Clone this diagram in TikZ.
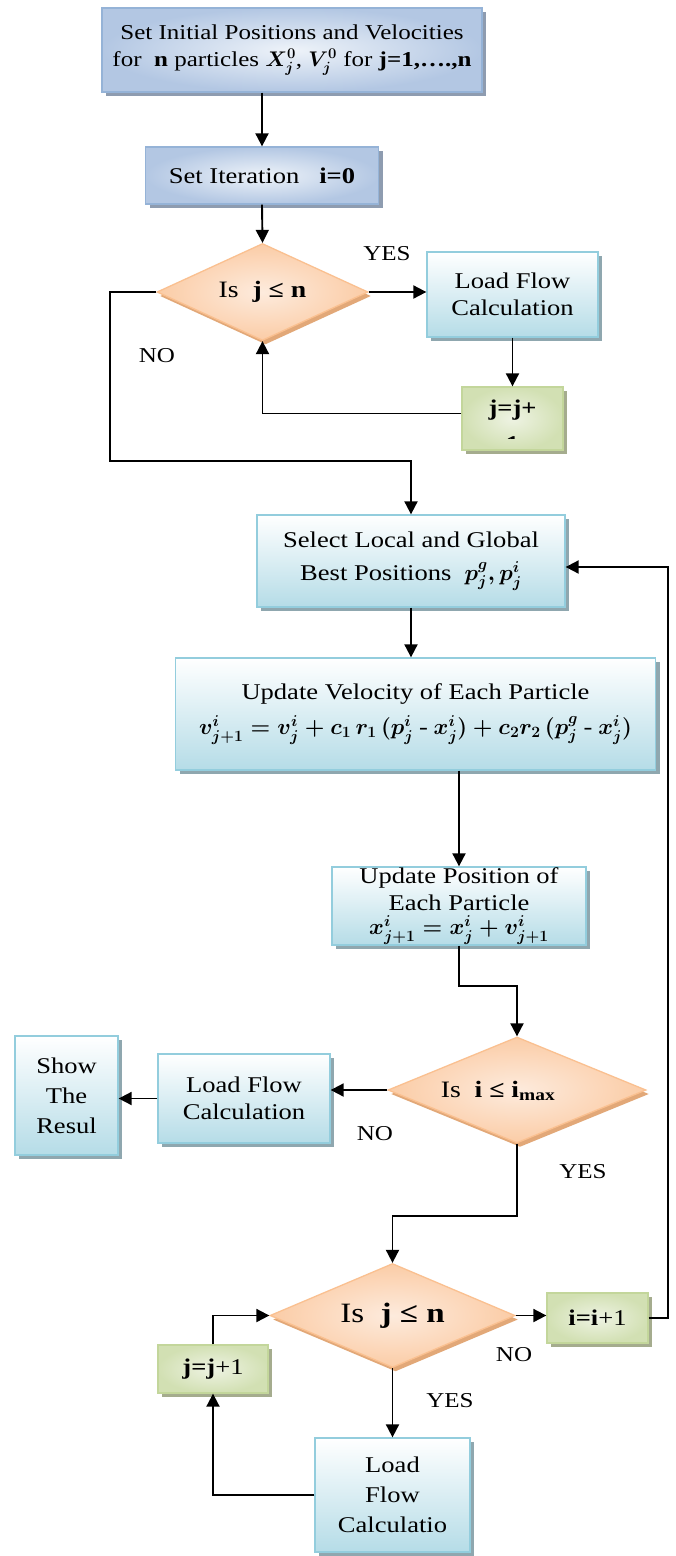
\RequirePackage{fix-cm}
\documentclass[tikz,border=0pt]{standalone}
\usepackage{amsmath}
\usepackage{fontspec}
\setmainfont[FakeStretch=1.18]{Liberation Serif}
\usetikzlibrary{shapes.geometric,shadows,arrows.meta}
\definecolor{blueborder}{HTML}{95B3D7}
\definecolor{blueinner}{HTML}{EEF3F9}
\definecolor{blueouter}{HTML}{B3C7E3}
\definecolor{blueshadow}{HTML}{8E9CB0}
\definecolor{cyanborder}{HTML}{93CDDD}
\definecolor{cyanbottom}{HTML}{B5DCE7}
\definecolor{cyanshadow}{HTML}{8FA7AF}
\definecolor{greenborder}{HTML}{C3D69B}
\definecolor{greeninner}{HTML}{EEF3E3}
\definecolor{greenouter}{HTML}{D2E0B3}
\definecolor{greenshadow}{HTML}{A5AC8E}
\definecolor{diaborder}{HTML}{FAC090}
\definecolor{diainner}{HTML}{FDEBDD}
\definecolor{diaouter}{HTML}{FBCCA6}
\definecolor{diashadow}{HTML}{E2A878}
\tikzset{
  basefont/.style={font=\fontsize{22.5}{27}\selectfont},
  boldfont/.style={font=\fontsize{22.5}{27}\selectfont\boldmath},
  boxshape/.style={rectangle, line width=1.3pt, align=center, inner sep=0pt},
  bluebox/.style={boxshape, draw=blueborder, inner color=blueinner, outer color=blueouter,
     drop shadow={shadow xshift=4pt, shadow yshift=-4pt, fill=blueshadow, opacity=1}},
  cyanbox/.style={boxshape, draw=cyanborder, top color=white, bottom color=cyanbottom,
     drop shadow={shadow xshift=4pt, shadow yshift=-4pt, fill=cyanshadow, opacity=1}},
  greenbox/.style={boxshape, draw=greenborder, inner color=greeninner, outer color=greenouter,
     drop shadow={shadow xshift=4pt, shadow yshift=-4pt, fill=greenshadow, opacity=1}},
  dia/.style={diamond, aspect=2, inner sep=0pt, line width=1.3pt, draw=diaborder, inner color=diainner,
     outer color=diaouter, align=center,
     drop shadow={shadow xshift=3pt, shadow yshift=-4pt, fill=diashadow, opacity=1}},
  arr/.style={line width=1.9pt, -{Triangle[length=13pt,width=13pt]}},
  lab/.style={font=\fontsize{21.2}{24}\selectfont, inner sep=0pt}
}
\begin{document}
\begin{tikzpicture}[x=1pt,y=-1pt]
\fill[white] (0,0) rectangle (675,1556);
\useasboundingbox (0,0) rectangle (675,1556);

\node[bluebox, font=\fontsize{21.2}{27}\selectfont\boldmath, minimum width=380pt, minimum height=84pt] (box1) at (292,50) {Set Initial Positions and Velocities\\for~~\textbf{n} particles $X^{0}_{j}$, $V^{0}_{j}$ for \textbf{j=1,\dots.,n}};
\node[bluebox, basefont, minimum width=233pt, minimum height=57pt] (box2) at (262,175.5) {Set Iteration~~~\textbf{i=0}};
\node[dia, font=\fontsize{23.5}{27}\selectfont, minimum width=211pt, minimum height=97pt] (d1) at (262.5,292) {Is~~\textbf{j ≤ n}};
\node[cyanbox, basefont, minimum width=171pt, minimum height=85pt] (lf1) at (512.5,294.5) {Load Flow\\Calculation};
\node[greenbox, basefont, minimum width=101pt, minimum height=63pt] (jp) at (512.5,418.5) {};
\node[basefont, inner sep=0pt] (jptext) at (512.5,410) {\textbf{j=j+}};
\begin{scope}
  \clip (462,387) rectangle (563,438);
  \node[basefont, inner sep=0pt, anchor=base] (jpone) at (512.5,451) {\textbf{1}};
\end{scope}
\node[cyanbox, boldfont, minimum width=308pt, minimum height=92pt] (sel) at (411,561) {Select Local and Global\\[6pt]Best Positions~~$p^{g}_{j}, p^{i}_{j}$};
\node[cyanbox, boldfont, minimum width=480pt, minimum height=112pt] (vel) at (415.5,714) {Update Velocity of Each Particle\\[8pt]$v^{i}_{j+1} = v^{i}_{j} + c_{1}\, r_{1}\, (p^{i}_{j} \mathbin{\text{-}} x^{i}_{j}) + c_{2}r_{2}\,(p^{g}_{j} \mathbin{\text{-}} x^{i}_{j})$};
\node[cyanbox, minimum width=254pt, minimum height=78pt] (pos) at (459,906) {};
\node[boldfont, align=center, inner sep=0pt] (postext) at (459,906) {Update Position of\\Each Particle\\[-3pt]$x^{i}_{j+1} = x^{i}_{j} + v^{i}_{j+1}$};
\node[dia, minimum width=258pt, minimum height=106pt] (d2) at (517,1090) {};
\node[font=\fontsize{23.5}{27}\selectfont, inner sep=0pt] (d2text) at (498,1091) {Is~~\textbf{i ≤ i\textsubscript{max}}};
\node[cyanbox, basefont, minimum width=172pt, minimum height=89pt] (lf2) at (244,1098.5) {Load Flow\\Calculation};
\node[cyanbox, basefont, minimum width=103pt, minimum height=119pt] (show) at (66.5,1095.5) {Show\\[3pt]The\\[3pt]Resul};
\node[dia, font=\fontsize{28}{30}\selectfont, minimum width=245pt, minimum height=104pt] (d3) at (392.5,1315.5) {Is~~\textbf{j ≤ n}};
\node[greenbox, basefont, minimum width=101pt, minimum height=50pt] (ii) at (597.5,1318) {\textbf{i=i}+1};
\node[greenbox, basefont, minimum width=110pt, minimum height=48pt] (jj) at (213,1369) {\textbf{j=j}+1};
\node[cyanbox, basefont, minimum width=155pt, minimum height=114pt] (lf3) at (392.5,1495) {Load\\[3pt]Flow\\[3pt]Calculatio};

\node[lab] (yes1) at (387,254) {YES};
\node[lab] (no1) at (157,356) {NO};
\node[lab] (no2) at (375,1134) {NO};
\node[lab] (yes2) at (583,1172) {YES};
\node[lab] (no3) at (514,1355) {NO};
\node[lab] (yes3) at (450,1401) {YES};

\coordinate (c1) at (110,461);
\draw[arr] (box1.south -| box2.north) -- (box2.north);
\draw[arr] (box2.south) -- (d1.north);
\draw[arr] (d1.east) -- (d1.east -| lf1.west);
\draw[arr] (lf1.south) -- (jp.north);
\draw[arr] ([yshift=5pt]jp.west) -| (d1.south);
\draw[arr] (d1.west) -| (c1) -| (sel.north);
\draw[arr] (sel.south) -- (sel.south |- vel.north);
\draw[arr] (vel.south -| pos.north) -- (pos.north);
\draw[arr] (pos.south) -- ++(0,40) -| (d2.north);
\draw[arr] (d2.west) -- (d2.west -| lf2.east);
\draw[arr] (lf2.west) -- (lf2.west -| show.east);
\draw[arr] (d2.south) -- ++(0,72) -| (d3.north);
\draw[arr] (d3.east) -- (d3.east -| ii.west);
\draw[arr] (ii.east) -- ++(19,0) |- ([yshift=-6pt]sel.east);
\draw[arr] (d3.south) -- (lf3.north);
\draw[arr] (lf3.west) -| (jj.south);
\draw[arr] (jj.north) |- (d3.west);
\end{tikzpicture}
\end{document}
